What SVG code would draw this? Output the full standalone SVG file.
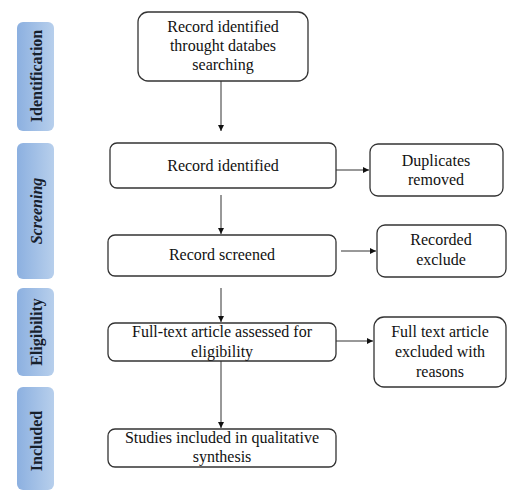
<svg xmlns="http://www.w3.org/2000/svg" width="508" height="493" viewBox="0 0 508 493">
<defs>
<linearGradient id="bar" x1="0" y1="0" x2="1" y2="0">
<stop offset="0" stop-color="#8cb0e0"/>
<stop offset="1" stop-color="#b7cfec"/>
</linearGradient>
<marker id="ah" viewBox="0 0 10 10" refX="10" refY="5" markerWidth="6" markerHeight="6" markerUnits="userSpaceOnUse" orient="auto">
<path d="M0,0 L10,5 L0,10 z" fill="#111"/>
</marker>
<style>
.box{fill:#fff;stroke:#333;stroke-width:1.3}
.bar{fill:url(#bar)}
.t{font-family:"Liberation Serif","Times New Roman",serif;font-size:16px;fill:#111;text-anchor:middle}
.s{font-family:"Liberation Serif","Times New Roman",serif;font-size:16px;font-weight:bold;fill:#17202c;text-anchor:middle}
.c{stroke:#333;stroke-width:1;fill:none;marker-end:url(#ah)}
</style>
</defs>
<rect width="508" height="493" fill="#fff"/>
<g id="stage-identification"><rect class="bar" x="17" y="22" width="37" height="109" rx="6"/><text class="s" transform="translate(42,76) rotate(-90)">Identification</text></g>
<g id="stage-screening"><rect class="bar" x="17" y="143" width="37" height="136" rx="6"/><text class="s" font-style="italic" transform="translate(42,211) rotate(-90)">Screening</text></g>
<g id="stage-eligibility"><rect class="bar" x="17" y="288" width="37" height="88" rx="6"/><text class="s" transform="translate(42,332) rotate(-90)">Eligibility</text></g>
<g id="stage-included"><rect class="bar" x="17" y="387" width="37" height="103" rx="6"/><text class="s" transform="translate(42,441) rotate(-90)">Included</text></g>

<g id="n-records-db"><rect class="box" x="138" y="12" width="170" height="69" rx="10"/>
<text class="t" x="223" y="32">Record identified</text><text class="t" x="223" y="51">throught databes</text><text class="t" x="223" y="70">searching</text></g>
<g id="n-record-identified"><rect class="box" x="110" y="143" width="226" height="45" rx="7"/><text class="t" x="223" y="171">Record identified</text></g>
<g id="n-duplicates"><rect class="box" x="370" y="144" width="133" height="52" rx="8"/><text class="t" x="436" y="166">Duplicates</text><text class="t" x="436" y="185">removed</text></g>
<g id="n-record-screened"><rect class="box" x="108" y="235" width="228" height="41" rx="7"/><text class="t" x="222" y="260">Record screened</text></g>
<g id="n-recorded-exclude"><rect class="box" x="377" y="225" width="129" height="52" rx="8"/><text class="t" x="441" y="245">Recorded</text><text class="t" x="441" y="265">exclude</text></g>
<g id="n-fulltext"><rect class="box" x="108" y="323" width="228" height="38" rx="7"/><text class="t" x="222" y="337">Full-text article assessed for</text><text class="t" x="222" y="357">eligibility</text></g>
<g id="n-fulltext-excluded"><rect class="box" x="374" y="317" width="132" height="70" rx="10"/><text class="t" x="440" y="337">Full text article</text><text class="t" x="440" y="357">excluded with</text><text class="t" x="440" y="377">reasons</text></g>
<g id="n-included"><rect class="box" x="108" y="429" width="228" height="38" rx="7"/><text class="t" x="222" y="443">Studies included in qualitative</text><text class="t" x="222" y="462">synthesis</text></g>

<g id="connectors">
<line class="c" x1="221" y1="81" x2="221" y2="131"/>
<line class="c" x1="336" y1="170" x2="369" y2="170"/>
<line class="c" x1="221" y1="195" x2="221" y2="234"/>
<line class="c" x1="341" y1="251" x2="376" y2="251"/>
<line class="c" x1="221" y1="288" x2="221" y2="322"/>
<line class="c" x1="336" y1="341" x2="373" y2="341"/>
<line class="c" x1="221" y1="361" x2="221" y2="428"/>
</g>
</svg>
